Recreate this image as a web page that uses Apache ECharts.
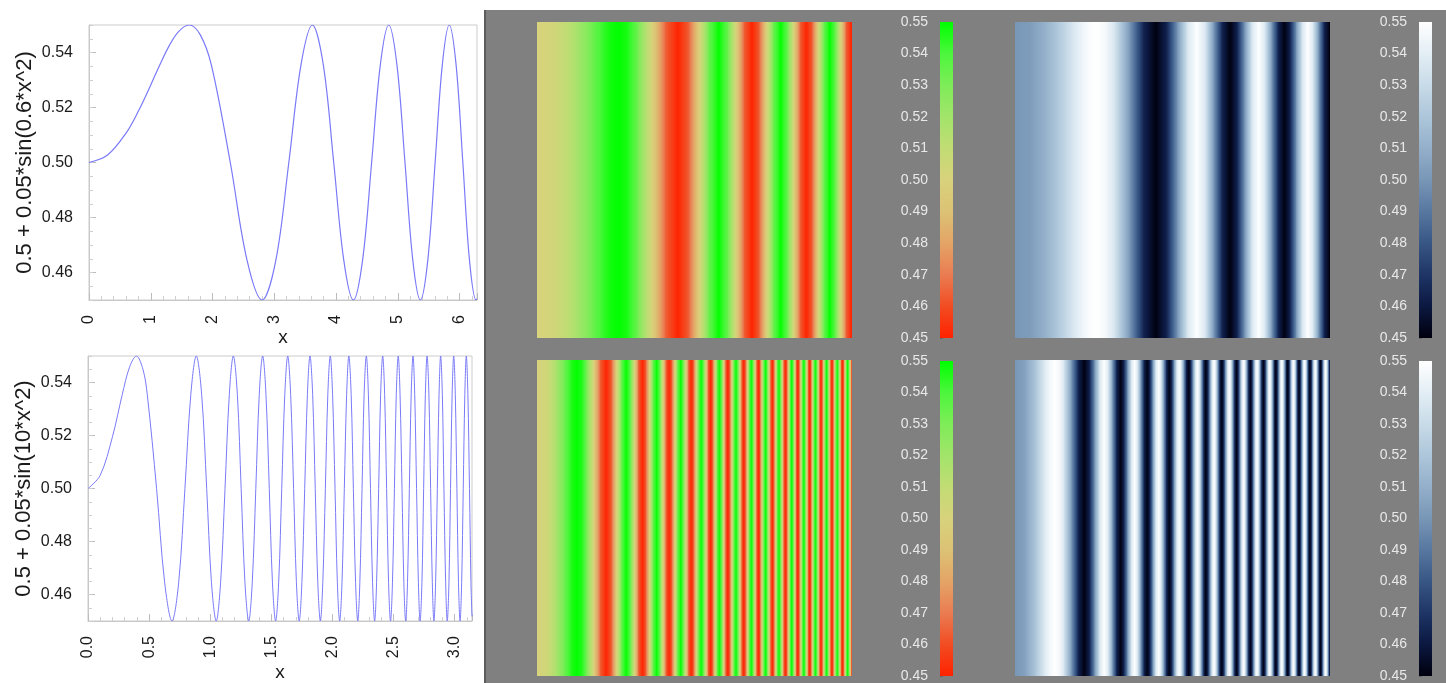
<!DOCTYPE html>
<html>
<head>
<meta charset="utf-8">
<script src="https://cdn.jsdelivr.net/npm/echarts@6/dist/echarts.min.js"></script>
<style>
html, body { margin: 0; padding: 0; background: #fff; }
#main { width: 1446px; height: 683px; }
</style>
</head>
<body>
<div id="main"></div>
<script>
// upper curve, 0.5 + 0.05*sin(0.6*x^2)
var topX = [0, 0.3, 0.6, 0.8, 1.0, 1.144, 1.3, 1.45, 1.618, 1.8, 1.982,
    2.288, 2.558, 2.803, 3.027,
    3.236, 3.432, 3.618, 3.795, 3.963, 4.125, 4.281, 4.431, 4.577, 4.717,
    4.854, 4.987, 5.117, 5.243, 5.366, 5.487, 5.605, 5.721, 5.834, 5.945,
    6.054, 6.161, 6.267, 6.283];
var topY = [0.5, 0.5027, 0.5107, 0.5187, 0.5282, 0.5354, 0.5425, 0.5476, 0.55, 0.5465, 0.5354,
    0.5, 0.4646, 0.45, 0.4646,
    0.5, 0.5354, 0.55, 0.5354, 0.5, 0.4646, 0.45, 0.4646, 0.5, 0.5354,
    0.55, 0.5354, 0.5, 0.4646, 0.45, 0.4646, 0.5, 0.5354, 0.55, 0.5354,
    0.5, 0.4646, 0.45, 0.4504];

// lower curve, 0.5 + 0.05*sin(10*x^2)
var botX = [0, 0.1, 0.2, 0.280, 0.34, 0.396, 0.45, 0.485, 0.561, 0.627, 0.687, 0.742,
    0.793, 0.841, 0.886, 0.930, 0.971, 1.010, 1.049, 1.085,
    1.121, 1.156, 1.189, 1.222, 1.253, 1.284, 1.315, 1.344,
    1.373, 1.401, 1.429, 1.456, 1.483, 1.509, 1.535, 1.560,
    1.585, 1.610, 1.634, 1.658, 1.682, 1.705, 1.728, 1.750,
    1.773, 1.795, 1.816, 1.838, 1.859, 1.880, 1.901, 1.921,
    1.942, 1.962, 1.982, 2.001, 2.021, 2.040, 2.059, 2.078,
    2.097, 2.116, 2.134, 2.153, 2.171, 2.189, 2.207, 2.224,
    2.242, 2.259, 2.277, 2.294, 2.311, 2.328, 2.345, 2.361,
    2.378, 2.394, 2.411, 2.427, 2.443, 2.459, 2.475, 2.491,
    2.507, 2.522, 2.538, 2.553, 2.569, 2.584, 2.599, 2.614,
    2.629, 2.644, 2.659, 2.673, 2.688, 2.703, 2.717, 2.732,
    2.746, 2.760, 2.774, 2.789, 2.803, 2.817, 2.830, 2.844,
    2.858, 2.872, 2.885, 2.899, 2.912, 2.926, 2.939, 2.953,
    2.966, 2.979, 2.992, 3.005, 3.018, 3.031, 3.044, 3.057,
    3.070, 3.083, 3.095, 3.108, 3.121, 3.133, 3.1416];
var botY = [0.5, 0.505, 0.5195, 0.5354, 0.5458, 0.55, 0.5449, 0.5354, 0.5, 0.4646, 0.45, 0.4646,
    0.5, 0.5354, 0.55, 0.5354, 0.5, 0.4646, 0.45, 0.4646,
    0.5, 0.5354, 0.55, 0.5354, 0.5, 0.4646, 0.45, 0.4646,
    0.5, 0.5354, 0.55, 0.5354, 0.5, 0.4646, 0.45, 0.4646,
    0.5, 0.5354, 0.55, 0.5354, 0.5, 0.4646, 0.45, 0.4646,
    0.5, 0.5354, 0.55, 0.5354, 0.5, 0.4646, 0.45, 0.4646,
    0.5, 0.5354, 0.55, 0.5354, 0.5, 0.4646, 0.45, 0.4646,
    0.5, 0.5354, 0.55, 0.5354, 0.5, 0.4646, 0.45, 0.4646,
    0.5, 0.5354, 0.55, 0.5354, 0.5, 0.4646, 0.45, 0.4646,
    0.5, 0.5354, 0.55, 0.5354, 0.5, 0.4646, 0.45, 0.4646,
    0.5, 0.5354, 0.55, 0.5354, 0.5, 0.4646, 0.45, 0.4646,
    0.5, 0.5354, 0.55, 0.5354, 0.5, 0.4646, 0.45, 0.4646,
    0.5, 0.5354, 0.55, 0.5354, 0.5, 0.4646, 0.45, 0.4646,
    0.5, 0.5354, 0.55, 0.5354, 0.5, 0.4646, 0.45, 0.4646,
    0.5, 0.5354, 0.55, 0.5354, 0.5, 0.4646, 0.45, 0.4646,
    0.5, 0.5354, 0.55, 0.5354, 0.5, 0.4646, 0.4517];

// tick labels
var yLabels = [0.46, 0.48, 0.50, 0.52, 0.54];
var cbLevels = [0.45, 0.46, 0.47, 0.48, 0.49, 0.50, 0.51, 0.52, 0.53, 0.54, 0.55];

// colour maps, one colour per level
var redGreen = ['#ff2200', '#f24c22', '#ea7c52', '#e4a466', '#dcc274', '#d8d27c',
    '#c2dc74', '#a2e46a', '#7eec58', '#4cf63c', '#00ff00'];
var blueWhite = ['#00000e', '#0b1840', '#1e3566', '#385684', '#5877a0', '#7896b6',
    '#93afca', '#adc6da', '#c8dbe8', '#e3eef5', '#ffffff'];

var lineColor = '#7a7af8';
var fontName = 'Liberation Sans, Arial, sans-serif';

function clamp01(t) {
    return Math.max(0, Math.min(1, t));
}

function cmapColor(colors, v) {
    var t = (v - cbLevels[0]) / (cbLevels[cbLevels.length - 1] - cbLevels[0]);
    return echarts.color.lerp(clamp01(t), colors);
}

function pairs(xs, ys) {
    var d = [];
    for (var i = 0; i < xs.length; i++) {
        d.push([xs[i], ys[i]]);
    }
    return d;
}

// one strip between two neighbouring points
function segments(xs, ys) {
    var d = [];
    for (var i = 0; i < xs.length - 1; i++) {
        d.push([xs[i], xs[i + 1], ys[i], ys[i + 1]]);
    }
    return d;
}

function stripRenderer(colors) {
    return function (params, api) {
        var v0 = api.value(2), v1 = api.value(3);
        var a = api.coord([api.value(0), 1]);
        var b = api.coord([api.value(1), 0]);
        var stops = [{offset: 0, color: cmapColor(colors, v0)}];
        var lo = Math.min(v0, v1), hi = Math.max(v0, v1);
        for (var i = 0; i < cbLevels.length; i++) {
            var L = cbLevels[i];
            if (L > lo + 1e-6 && L < hi - 1e-6) {
                stops.push({offset: clamp01((L - v0) / (v1 - v0)), color: colors[i]});
            }
        }
        stops.push({offset: 1, color: cmapColor(colors, v1)});
        stops.sort(function (p, q) { return p.offset - q.offset; });
        return {
            type: 'rect',
            shape: {x: a[0], y: a[1], width: b[0] - a[0] + 0.8, height: b[1] - a[1]},
            style: {fill: new echarts.graphic.LinearGradient(0, 0, 1, 0, stops)}
        };
    };
}

function barRenderer(colors) {
    return function (params, api) {
        var lo = api.value(0), hi = api.value(1);
        var a = api.coord([0, hi]);
        var b = api.coord([1, lo]);
        var stops = [];
        for (var i = 0; i < cbLevels.length; i++) {
            stops.push({offset: clamp01((hi - cbLevels[i]) / (hi - lo)), color: colors[i]});
        }
        stops.sort(function (p, q) { return p.offset - q.offset; });
        return {
            type: 'rect',
            shape: {x: a[0], y: a[1], width: b[0] - a[0], height: b[1] - a[1]},
            style: {fill: new echarts.graphic.LinearGradient(0, 0, 0, 1, stops)}
        };
    };
}

var chart = echarts.init(document.getElementById('main'));

var grids = [
    {left: 89, top: 25, width: 388, height: 275},
    {left: 88, top: 356, width: 384, height: 265},
    {left: 537, top: 22, width: 315, height: 316},
    {left: 537, top: 360, width: 315, height: 316},
    {left: 1015, top: 22, width: 315, height: 316},
    {left: 1015, top: 360, width: 315, height: 316},
    {left: 940, top: 22, width: 13, height: 316},
    {left: 940, top: 361, width: 13, height: 316},
    {left: 1419, top: 22, width: 13, height: 316},
    {left: 1419, top: 361, width: 13, height: 316}
];
grids.forEach(function (g, i) {
    g.containLabel = false;
    if (i < 2) {
        g.show = true;
        g.borderColor = '#cccccc';
        g.borderWidth = 1;
        g.backgroundColor = '#fff';
    }
});

function lineX(gi, max, step, fmt, gap) {
    return {
        gridIndex: gi, type: 'value', min: 0, max: max, interval: step,
        axisLine: {show: true, lineStyle: {color: '#c8c8c8'}},
        axisTick: {inside: true, length: 7, lineStyle: {color: '#bcbcbc'}},
        minorTick: {show: true, splitNumber: 5, length: 4, lineStyle: {color: '#cfcfcf'}},
        splitLine: {show: false},
        axisLabel: {rotate: 90, margin: 15, fontSize: 16, color: '#1a1a1a', fontFamily: fontName,
            showMaxLabel: false, formatter: fmt},
        name: 'x', nameLocation: 'middle', nameGap: gap,
        nameTextStyle: {fontSize: 19, color: '#1a1a1a', fontFamily: fontName}
    };
}

function lineYMain(gi, name) {
    return {
        gridIndex: gi, type: 'value', min: 0.45, max: 0.55, position: 'left',
        axisLine: {show: true, lineStyle: {color: '#c8c8c8'}},
        axisTick: {inside: true, length: 7, customValues: yLabels, lineStyle: {color: '#bcbcbc'}},
        splitLine: {show: false},
        axisLabel: {customValues: yLabels, margin: 16, fontSize: 16, color: '#1a1a1a', fontFamily: fontName,
            formatter: function (v) { return v.toFixed(2); }},
        name: name, nameLocation: 'middle', nameGap: 53,
        nameTextStyle: {fontSize: 22, color: '#1a1a1a', fontFamily: fontName}
    };
}

function lineYMinor(gi) {
    return {
        gridIndex: gi, type: 'value', min: 0.45, max: 0.55, interval: 0.005, position: 'left',
        axisLine: {show: false},
        axisTick: {inside: true, length: 4, lineStyle: {color: '#cfcfcf'}},
        axisLabel: {show: false},
        splitLine: {show: false}
    };
}

function hiddenAxis(gi, max) {
    return {gridIndex: gi, type: 'value', min: 0, max: max, show: false, splitLine: {show: false}};
}

function cbAxis(gi) {
    return {
        gridIndex: gi, type: 'value', min: 0.45, max: 0.55, interval: 0.01, position: 'left',
        axisLine: {show: false},
        axisTick: {show: true, inside: true, length: 3, lineStyle: {color: 'rgba(0,0,0,0.2)'}},
        splitLine: {show: false},
        axisLabel: {margin: 12, fontSize: 14, color: '#e8e8e8', fontFamily: fontName,
            formatter: function (v) { return v.toFixed(2); }}
    };
}

var option = {
    backgroundColor: '#ffffff',
    animation: false,
    graphic: [
        {type: 'rect', left: 485, top: 10, z: -100, shape: {width: 961, height: 673}, style: {fill: '#808080'}},
        {type: 'rect', left: 484, top: 10, z: -99, shape: {width: 2, height: 673}, style: {fill: '#5c5c5c'}}
    ],
    grid: grids,
    xAxis: [
        lineX(0, 6.2832, 1, function (v) { return String(v); }, 24),
        lineX(1, 3.1416, 0.5, function (v) { return v.toFixed(1); }, 42),
        hiddenAxis(2, 6.2832),
        hiddenAxis(3, 3.1416),
        hiddenAxis(4, 6.2832),
        hiddenAxis(5, 3.1416),
        hiddenAxis(6, 1),
        hiddenAxis(7, 1),
        hiddenAxis(8, 1),
        hiddenAxis(9, 1)
    ],
    yAxis: [
        lineYMain(0, '0.5 + 0.05*sin(0.6*x^2)'),
        lineYMinor(0),
        lineYMain(1, '0.5 + 0.05*sin(10*x^2)'),
        lineYMinor(1),
        hiddenAxis(2, 1),
        hiddenAxis(3, 1),
        hiddenAxis(4, 1),
        hiddenAxis(5, 1),
        cbAxis(6),
        cbAxis(7),
        cbAxis(8),
        cbAxis(9)
    ],
    series: [
        {type: 'line', xAxisIndex: 0, yAxisIndex: 0, data: pairs(topX, topY), showSymbol: false,
            smooth: 0.35, lineStyle: {color: lineColor, width: 1.2}},
        {type: 'line', xAxisIndex: 1, yAxisIndex: 2, data: pairs(botX, botY), showSymbol: false,
            smooth: 0.35, lineStyle: {color: lineColor, width: 1}},
        {type: 'custom', xAxisIndex: 2, yAxisIndex: 4, clip: true, data: segments(topX, topY), renderItem: stripRenderer(redGreen)},
        {type: 'custom', xAxisIndex: 3, yAxisIndex: 5, clip: true, data: segments(botX, botY), renderItem: stripRenderer(redGreen)},
        {type: 'custom', xAxisIndex: 4, yAxisIndex: 6, clip: true, data: segments(topX, topY), renderItem: stripRenderer(blueWhite)},
        {type: 'custom', xAxisIndex: 5, yAxisIndex: 7, clip: true, data: segments(botX, botY), renderItem: stripRenderer(blueWhite)},
        {type: 'custom', xAxisIndex: 6, yAxisIndex: 8, data: [[0.45, 0.55]], renderItem: barRenderer(redGreen)},
        {type: 'custom', xAxisIndex: 7, yAxisIndex: 9, data: [[0.45, 0.55]], renderItem: barRenderer(redGreen)},
        {type: 'custom', xAxisIndex: 8, yAxisIndex: 10, data: [[0.45, 0.55]], renderItem: barRenderer(blueWhite)},
        {type: 'custom', xAxisIndex: 9, yAxisIndex: 11, data: [[0.45, 0.55]], renderItem: barRenderer(blueWhite)}
    ]
};
chart.setOption(option);
</script>
</body>
</html>
